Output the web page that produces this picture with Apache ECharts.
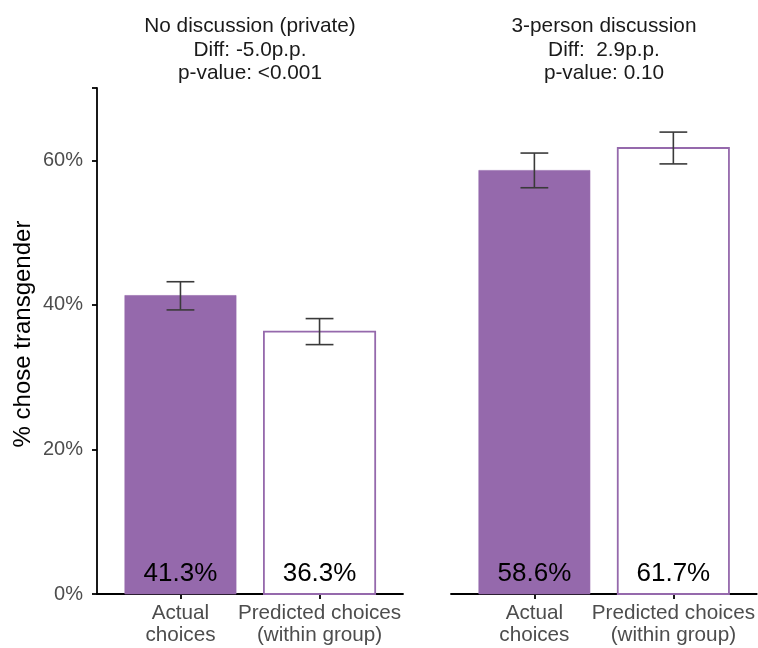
<!DOCTYPE html>
<html>
<head>
<meta charset="utf-8">
<script src="https://cdn.jsdelivr.net/npm/echarts@6/dist/echarts.min.js"></script>
<style>
html,body{margin:0;padding:0;background:#fff;}
#chart{width:758px;height:648px;}
</style>
</head>
<body>
<div id="chart"></div>
<script>
// ---- data ----
const categories = ['Actual\nchoices', 'Predicted choices\n(within group)'];
const facetNames = ['No discussion (private)', '3-person discussion'];
const diffs = ['-5.0', ' 2.9'];
const pValues = ['<0.001', '0.10'];
const actualValues = [41.3, 58.6];
const actualLow = [39.3, 56.2];
const actualHigh = [43.2, 61.0];
const predictedValues = [36.3, 61.7];
const predictedLow = [34.5, 59.5];
const predictedHigh = [38.1, 63.9];
const yTicks = [0, 20, 40, 60];

const FONT = "'Liberation Sans', Arial, Helvetica, sans-serif";
const PURPLE = '#9569ac';

const chart = echarts.init(document.getElementById('chart'), null, {renderer: 'canvas'});

function facetData(i) {
  return [
    [1, actualValues[i], actualLow[i], actualHigh[i], 0],
    [2, predictedValues[i], predictedLow[i], predictedHigh[i], 1]
  ];
}

function renderItem(params, api) {
  const x = api.value(0), v = api.value(1), lo = api.value(2), hi = api.value(3), kind = api.value(4);
  const bw = api.size([0.8, 0])[0];
  const cw = api.size([0.2, 0])[0];
  const top = api.coord([x, v]);
  const base = api.coord([x, 0]);
  const pLo = api.coord([x, lo]);
  const pHi = api.coord([x, hi]);
  const rect = {
    type: 'rect',
    shape: {x: top[0] - bw / 2, y: top[1], width: bw, height: base[1] - top[1]},
    style: kind === 0 ? {fill: PURPLE, stroke: PURPLE, lineWidth: 0.6}
                      : {fill: '#ffffff', stroke: PURPLE, lineWidth: 1.8}
  };
  const eStyle = {stroke: '#3a3a3a', lineWidth: 1.6};
  const err = [
    {type: 'line', shape: {x1: pLo[0], y1: pLo[1], x2: pHi[0], y2: pHi[1]}, style: eStyle},
    {type: 'line', shape: {x1: pHi[0] - cw / 2, y1: pHi[1], x2: pHi[0] + cw / 2, y2: pHi[1]}, style: eStyle},
    {type: 'line', shape: {x1: pLo[0] - cw / 2, y1: pLo[1], x2: pLo[0] + cw / 2, y2: pLo[1]}, style: eStyle}
  ];
  const label = {
    type: 'text',
    x: base[0], y: base[1] - 20.5,
    style: {
      text: v.toFixed(1) + '%',
      fill: '#000', font: '26px ' + FONT,
      align: 'center', verticalAlign: 'middle'
    }
  };
  return {type: 'group', children: [rect].concat(err, [label])};
}

function xAxis(gi) {
  return {
    type: 'value', gridIndex: gi, min: 0.4, max: 2.6,
    axisLine: {show: true, lineStyle: {color: '#000', width: 1.8}},
    axisTick: {show: true, customValues: [1, 2], length: 5, lineStyle: {color: '#000', width: 1.8}},
    axisLabel: {
      show: true, customValues: [1, 2],
      formatter: v => categories[Math.round(v) - 1],
      color: '#4d4d4d', fontSize: 20.7, lineHeight: 22.3, fontFamily: FONT, margin: 8
    },
    splitLine: {show: false}
  };
}

const titles = facetNames.map((n, i) => ({
  text: n + '\nDiff: ' + diffs[i] + 'p.p.\np-value: ' + pValues[i],
  left: i === 0 ? 250 : 604,
  top: 15,
  textAlign: 'center',
  padding: 0,
  textStyle: {fontSize: 20.8, fontWeight: 'normal', color: '#1a1a1a', fontFamily: FONT, lineHeight: 23.3}
}));

const option = {
  backgroundColor: '#fff',
  animation: false,
  title: titles,
  grid: [
    {left: 97, top: 88, width: 306, height: 506},
    {left: 451, top: 88, width: 307, height: 506}
  ],
  xAxis: [xAxis(0), xAxis(1)],
  yAxis: [
    {
      type: 'value', gridIndex: 0, min: 0, max: 70, interval: 20,
      name: '% chose transgender', nameLocation: 'middle', nameGap: 62,
      nameTextStyle: {fontSize: 24, color: '#000', fontFamily: FONT, padding: [0, 0, 0, 14]},
      axisLine: {show: true, lineStyle: {color: '#000', width: 1.8}},
      axisTick: {show: true, length: 5, lineStyle: {color: '#000', width: 1.8}},
      axisLabel: {
        color: '#4d4d4d', fontSize: 20, fontFamily: FONT, margin: 14,
        customValues: yTicks,
        formatter: v => v + '%'
      },
      splitLine: {show: false}
    },
    {
      type: 'value', gridIndex: 1, min: 0, max: 70, interval: 20,
      axisLine: {show: false}, axisTick: {show: false}, axisLabel: {show: false},
      splitLine: {show: false}
    }
  ],
  series: [0, 1].map(i => ({
    type: 'custom', xAxisIndex: i, yAxisIndex: i,
    renderItem: renderItem,
    data: facetData(i),
    clip: false
  }))
};
chart.setOption(option);
</script>
</body>
</html>
